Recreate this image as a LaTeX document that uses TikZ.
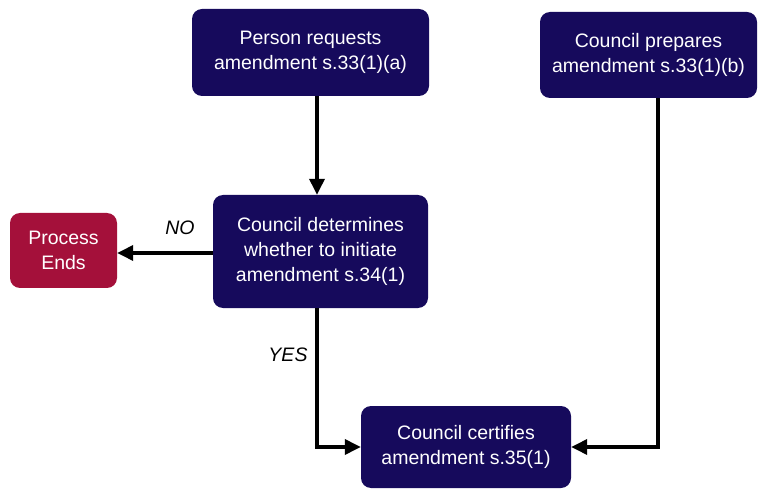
\documentclass[tikz,border=0pt]{standalone}
\usepackage{fontspec}
\setmainfont{Liberation Sans}
\usetikzlibrary{arrows.meta}
\definecolor{navy}{RGB}{22,10,92}
\definecolor{crimson}{RGB}{164,16,58}
\begin{document}
\begin{tikzpicture}[x=1pt,y=-1pt,
  stepbox/.style={fill=navy,rounded corners=10pt,text=white,align=center,
    inner sep=0pt,font=\fontsize{19.5}{25}\selectfont},
  endbox/.style={stepbox,fill=crimson},
  flow/.style={line width=3.5pt,-{Triangle[length=16pt,width=15pt]}},
  lbl/.style={font=\fontsize{19.5}{25}\selectfont\itshape}]
\useasboundingbox (0,0) rectangle (758,489);
% process steps
\node[stepbox,minimum width=237pt,minimum height=87pt] (A) at (310.5,52.5)
  {Person requests\\amendment s.33(1)(a)};
\node[stepbox,minimum width=217pt,minimum height=86pt] (B) at (648.5,55)
  {Council prepares\\amendment s.33(1)(b)};
\node[stepbox,minimum width=215pt,minimum height=113pt] (C) at (320.5,251.5)
  {Council determines\\whether to initiate\\amendment s.34(1)};
\node[endbox,minimum width=107pt,minimum height=75pt] (E) at (63.5,250.5)
  {Process\\Ends};
\node[stepbox,minimum width=210pt,minimum height=82pt] (D) at (466,447)
  {Council certifies\\amendment s.35(1)};
% connectors
\draw[flow] ([xshift=6.5pt]A.south) -- ([xshift=-3.5pt]C.north);
\draw[flow] ([yshift=-1.5pt]C.west) -- ([yshift=-1.5pt]C.west -| E.east);
\draw[flow] ([xshift=-3.5pt]C.south) |- (D.west);
\draw[flow] ([xshift=9.5pt]B.south) |- (D.east);
% branch labels
\node[lbl] (no) at (180,228) {NO};
\node[lbl] (yes) at (288,355) {YES};
\end{tikzpicture}
\end{document}
